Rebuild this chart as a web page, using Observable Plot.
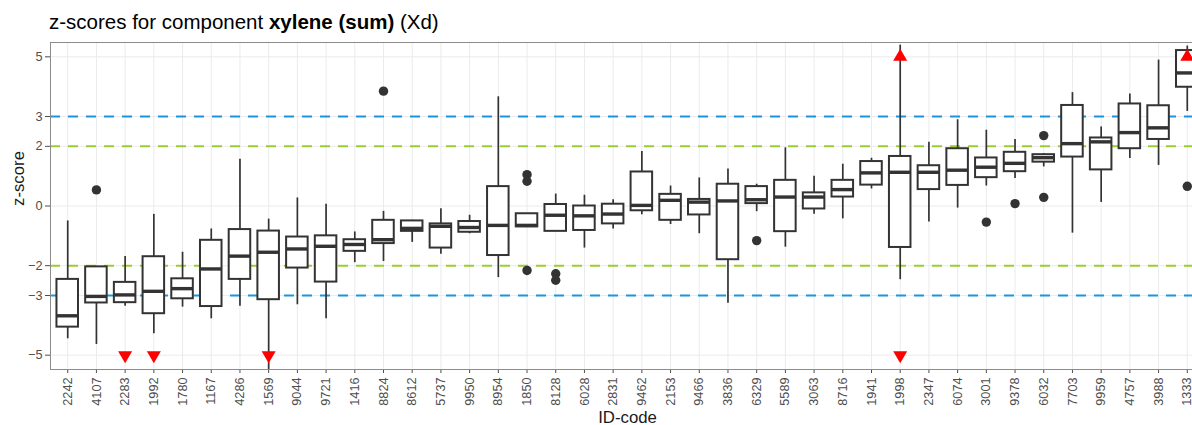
<!DOCTYPE html>
<html>
<head>
<meta charset="utf-8">
<script src="https://cdn.jsdelivr.net/npm/d3@7"></script>
<script src="https://cdn.jsdelivr.net/npm/@observablehq/plot@0.6"></script>
<style>
html, body { margin: 0; padding: 0; background: #fff; overflow: hidden; width: 1192px; height: 425px; }
#title { box-sizing: border-box; height: 34px; padding-top: 12px; padding-left: 49px; font-family: "Liberation Sans", Arial, sans-serif; font-size: 20.5px; line-height: 20.5px; color: #000; white-space: nowrap; }
#chart { width: 1192px; overflow: hidden; }
#chart svg { display: block; max-width: none !important; }
</style>
</head>
<body>
<div id="title">z-scores for component <b>xylene (sum)</b> (Xd)</div>
<div id="chart"></div>
<script>
// Categories (ID-codes), in plotted order
const ids = ["2242","4107","2283","1992","1780","1167","4286","1569","9044","9721","1416","8824","8612","5737","9950","8954","1850","8128","6028","2831","9462","2153","9466","3836","6329","5589","3063","8716","1941","1998","2347","6074","3001","9378","6032","7703","9959","4757","3988","1333"];
// Box statistics per ID-code
const whiskerLow = [-4.45,-4.64,-3.36,-4.28,-3.39,-3.78,-3.36,-5.90,-3.31,-3.78,-1.90,-1.86,-1.22,-1.62,-0.93,-2.40,-0.72,-0.85,-1.41,-0.77,-0.29,-0.62,-0.93,-3.26,-0.19,-1.38,-0.28,-0.43,0.57,-2.47,-0.54,-0.07,0.67,0.92,1.31,-0.91,0.12,1.59,1.36,3.17];
const q1 = [-4.06,-3.25,-3.24,-3.61,-3.11,-3.37,-2.46,-3.14,-2.08,-2.55,-1.52,-1.26,-0.85,-1.41,-0.88,-1.66,-0.70,-0.85,-0.82,-0.60,-0.16,-0.48,-0.30,-1.80,0.08,-0.86,-0.10,0.30,0.70,-1.39,0.55,0.69,0.95,1.15,1.47,1.64,1.21,1.92,2.23,3.98];
const median = [-3.68,-3.03,-2.98,-2.86,-2.77,-2.11,-1.68,-1.55,-1.44,-1.35,-1.29,-1.13,-0.75,-0.68,-0.72,-0.65,-0.65,-0.31,-0.33,-0.27,0.02,0.19,0.13,0.17,0.21,0.30,0.30,0.55,1.11,1.13,1.13,1.20,1.30,1.43,1.62,2.09,2.15,2.46,2.62,4.46];
const q3 = [-2.46,-2.04,-2.56,-1.70,-2.44,-1.15,-0.79,-0.84,-1.04,-1.00,-1.13,-0.48,-0.50,-0.60,-0.52,0.65,-0.26,0.05,0.00,0.06,1.14,0.39,0.22,0.73,0.65,0.86,0.44,0.86,1.49,1.66,1.35,1.92,1.61,1.80,1.72,3.37,2.28,3.42,3.36,5.21];
const whiskerHigh = [-0.50,-2.03,-1.69,-0.28,-1.55,-0.77,1.57,-0.44,0.27,0.06,-0.87,-0.18,-0.48,-0.09,-0.31,3.66,-0.25,0.40,0.36,0.21,1.83,0.67,0.94,1.24,0.73,1.95,1.00,1.40,1.60,5.39,2.14,2.89,2.54,2.23,1.76,3.80,2.65,3.75,4.89,5.36];
// Outlier points
const outlierIds = ["4107","8824","1850","1850","1850","8128","8128","6329","3001","9378","6032","6032","1333"];
const outlierValues = [0.54,3.85,1.05,0.83,-2.16,-2.27,-2.49,-1.16,-0.54,0.08,2.36,0.29,0.66];
// Values beyond +/-5 flagged with red triangles
const flagUpIds = ["1998","1333"];
const flagDownIds = ["2283","1992","1569","1998"];
// Axis ticks and limit lines
const yTicks = [-5,-3,-2,0,2,3,5];
const warnLimits = [2,-2];
const actionLimits = [3,-3];

const boxes = ids.map((id, i) => ({id, lo: whiskerLow[i], q1: q1[i], med: median[i], q3: q3[i], hi: whiskerHigh[i]}));
const outliers = outlierIds.map((id, i) => ({id, v: outlierValues[i]}));
const flagsUp = flagUpIds.map(id => ({id, v: 5}));
const flagsDown = flagDownIds.map(id => ({id, v: -5}));

const triUp = {draw(ctx, size) {
  const s = Math.sqrt(size / (Math.sqrt(3) / 4)); const h = s * Math.sqrt(3) / 2;
  ctx.moveTo(0, -2 * h / 3); ctx.lineTo(s / 2, h / 3); ctx.lineTo(-s / 2, h / 3); ctx.closePath();
}};
const triDown = {draw(ctx, size) {
  const s = Math.sqrt(size / (Math.sqrt(3) / 4)); const h = s * Math.sqrt(3) / 2;
  ctx.moveTo(0, 2 * h / 3); ctx.lineTo(s / 2, -h / 3); ctx.lineTo(-s / 2, -h / 3); ctx.closePath();
}};

const dark = "#333333";
const chart = Plot.plot({
  width: 1205,
  height: 391,
  marginLeft: 50,
  marginRight: 1,
  marginTop: 8,
  marginBottom: 56,
  style: {fontFamily: "'Liberation Sans', Arial, sans-serif", fontSize: "12.7px", color: "#4d4d4d", background: "#fff", overflow: "visible", maxWidth: "none"},
  x: {type: "band", domain: ids, paddingInner: 0.25, paddingOuter: 0.225, round: false, tickRotate: -90, tickSize: 4, tickPadding: 4, label: null},
  y: {domain: [-5.48, 5.48], ticks: yTicks, tickSize: 5, tickPadding: 3, label: null},
  marks: [
    Plot.ruleY(yTicks, {stroke: "#ebebeb", strokeWidth: 1}),
    Plot.ruleX(ids, {x: d => d, stroke: "#ebebeb", strokeWidth: 1}),
    Plot.ruleY(actionLimits, {stroke: "#1b95dd", strokeWidth: 2, strokeDasharray: "10,8"}),
    Plot.ruleY(warnLimits, {stroke: "#9acd32", strokeWidth: 2, strokeDasharray: "10,8"}),
    Plot.ruleX(boxes, {x: "id", y1: "lo", y2: "hi", stroke: dark, strokeWidth: 1.7, clip: true}),
    Plot.barY(boxes, {x: "id", y1: "q1", y2: "q3", fill: "white", stroke: dark, strokeWidth: 2, clip: true}),
    Plot.tickY(boxes, {x: "id", y: "med", stroke: dark, strokeWidth: 3.4, clip: true}),
    Plot.dot(outliers, {x: "id", y: "v", r: 4.7, fill: dark, stroke: "none"}),
    Plot.dot(flagsUp, {x: "id", y: "v", r: 5.2, symbol: triUp, fill: "#ff0000", stroke: "none"}),
    Plot.dot(flagsDown, {x: "id", y: "v", r: 5.2, symbol: triDown, fill: "#ff0000", stroke: "none"}),
    Plot.frame({stroke: "#8c8c8c", strokeWidth: 1}),
    Plot.text(["z-score"], {frameAnchor: "left", dx: -32, rotate: -90, fontSize: 16.8, fill: "#1a1a1a"}),
    Plot.text(["ID-code"], {frameAnchor: "bottom", dy: 53, fontSize: 16.8, fill: "#1a1a1a"})
  ]
});
chart.style.maxWidth = "none";
chart.setAttribute("width", 1205);
document.getElementById("chart").appendChild(chart);
</script>
</body>
</html>
